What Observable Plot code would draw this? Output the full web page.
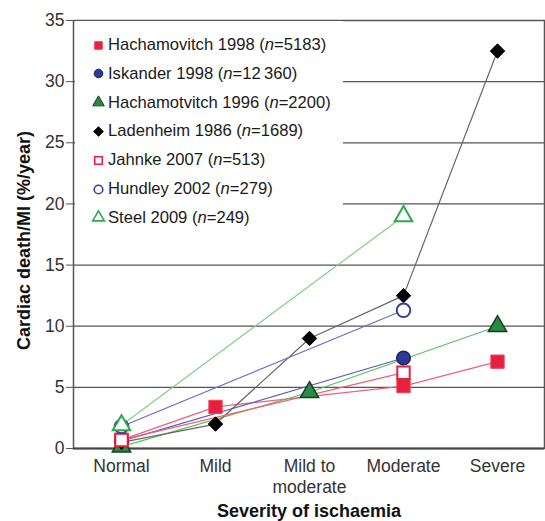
<!DOCTYPE html>
<html><head><meta charset="utf-8">
<script src="https://cdn.jsdelivr.net/npm/d3@7"></script>
<script src="https://cdn.jsdelivr.net/npm/@observablehq/plot@0.6"></script>
<style>
body{margin:0;background:#fff;font-family:"Liberation Sans",Arial,sans-serif;}
#wrap{position:relative;width:545px;height:521px;}
#legend{position:absolute;left:75px;top:21px;width:268px;height:214px;background:#fff;}
.row{position:absolute;left:18px;height:22px;display:flex;align-items:center;font-size:16.6px;color:#1a1a1a;white-space:nowrap;}
.row svg{margin-right:4px;overflow:visible}
svg g[aria-label="y-axis label"] text, svg g[aria-label="x-axis label"] text{font-weight:bold;fill:#111;font-size:18px;}
</style></head><body><div id="wrap"></div>
<script>
const categories = ["Normal", "Mild", "Mild to moderate", "Moderate", "Severe"];
const tickLabels = ["Normal", "Mild", "Mild to\nmoderate", "Moderate", "Severe"];
const yTicks = [0, 5, 10, 15, 20, 25, 30, 35];
const seriesNames = ["Hachamovitch 1998", "Iskander 1998", "Hachamotvitch 1996", "Ladenheim 1986", "Jahnke 2007", "Hundley 2002", "Steel 2009"];
const sampleSizes = ["5183", "12\u2009360", "2200", "1689", "513", "279", "249"];
const hachamovitch1998 = [0.7, 3.4, null, 5.1, 7.1];
const iskander1998 = [0.6, null, null, 7.4, null];
const hachamovitch1996 = [0.15, null, 4.6, null, 10.0];
const ladenheim1986 = [0.5, 2.0, 9.0, 12.5, 32.5];
const jahnke2007 = [0.7, null, null, 6.2, null];
const hundley2002 = [1.8, null, null, 11.3, null];
const steel2009 = [1.9, null, null, 19.0, null];

const seriesValues = [hachamovitch1998, iskander1998, hachamovitch1996, ladenheim1986, jahnke2007, hundley2002, steel2009];
const styles = [
  {symbol:"square",   fill:"#e8203f", stroke:"#ee4058", line:"#f0607a", r:7.5, sw:1},
  {symbol:"circle",   fill:"#2b3a97", stroke:"#1c2460", line:"#5a62b8", r:6.8, sw:1.5},
  {symbol:"triangle", fill:"#2b8a43", stroke:"#163f1f", line:"#5cbf63", r:6.8, sw:1.5},
  {symbol:"diamond2", fill:"#000",    stroke:"#000",    line:"#666",    r:6.5, sw:1},
  {symbol:"square",   fill:"#fff",    stroke:"#e8203f", line:"#f0607a", r:7,   sw:2},
  {symbol:"circle",   fill:"#fff",    stroke:"#3a3fa0", line:"#6a6fc8", r:6.8, sw:2},
  {symbol:"triangle", fill:"#fff",    stroke:"#2ea84a", line:"#7fd07f", r:6.5, sw:2}
];

const tables = seriesValues.map((vals, i) =>
  vals.map((v, j) => ({series: seriesNames[i], category: categories[j], value: v})).filter(d => d.value != null));

const lineMarks = tables.map((t, i) => Plot.line(t, {x:"category", y:"value", stroke: styles[i].line, strokeWidth:1.2}));
const dotMarks = tables.map((t, i) => Plot.dot(t, {x:"category", y:"value", symbol: styles[i].symbol, fill: styles[i].fill, stroke: styles[i].stroke, strokeWidth: styles[i].sw, r: styles[i].r}));

const chart = Plot.plot({
  width: 545, height: 521,
  marginTop: 20, marginBottom: 73, marginLeft: 73, marginRight: 1,
  style: {fontFamily: "Liberation Sans, Arial, sans-serif", fontSize: "17.5px", color: "#333", background: "#fff"},
  x: {type: "point", domain: categories, padding: 0.5},
  y: {domain: [0, 35]},
  marks: [
    Plot.ruleY(yTicks.filter(d => d > 0 && d < 35), {stroke: "#555", strokeWidth: 1.3}),
    Plot.frame({stroke: "#555", strokeWidth: 1.5}),
    Plot.ruleY([0], {stroke: "#444", strokeWidth: 2}),
    Plot.axisY({ticks: yTicks, tickSize: 7, tickPadding: 2, stroke: "#555", label: "Cardiac death/MI (%/year)", labelAnchor: "center", labelArrow: "none", labelOffset: 56}),
    Plot.axisX({tickSize: 0, tickPadding: 9, lineHeight: 1.2, tickFormat: d => tickLabels[categories.indexOf(d)], label: "Severity of ischaemia", labelAnchor: "center", labelArrow: "none", labelOffset: 68}),
    ...lineMarks,
    ...dotMarks
  ]
});
const wrap = document.getElementById("wrap");
wrap.appendChild(chart);
// nudge the y-axis title slightly downward (along rotated text direction)
d3.select(chart).selectAll('g[aria-label="y-axis label"] text').attr("dx", "-6");

// legend
const legend = document.createElement("div");
legend.id = "legend";
seriesNames.forEach((name, i) => {
  const row = document.createElement("div");
  row.className = "row";
  row.style.top = (13 + i * 28.8) + "px";
  const s = styles[i];
  const sym = {square: d3.symbolSquare, circle: d3.symbolCircle, triangle: d3.symbolTriangle, diamond2: d3.symbolDiamond2}[s.symbol];
  const rr = 4.3;
  const path = d3.symbol(sym, Math.PI * rr * rr)();
  const svgNS = "http://www.w3.org/2000/svg";
  const svg = document.createElementNS(svgNS, "svg");
  svg.setAttribute("width", 11); svg.setAttribute("height", 11);
  const p = document.createElementNS(svgNS, "path");
  p.setAttribute("d", path);
  p.setAttribute("transform", "translate(5.5,5.5)");
  p.setAttribute("fill", s.fill);
  p.setAttribute("stroke", s.stroke);
  p.setAttribute("stroke-width", s.fill === "#fff" ? 1.6 : 1);
  svg.appendChild(p);
  row.appendChild(svg);
  const txt = document.createElement("span");
  txt.innerHTML = name + " (<i>n</i>=" + sampleSizes[i] + ")";
  row.appendChild(txt);
  legend.appendChild(row);
});
wrap.appendChild(legend);
</script>
</body></html>
